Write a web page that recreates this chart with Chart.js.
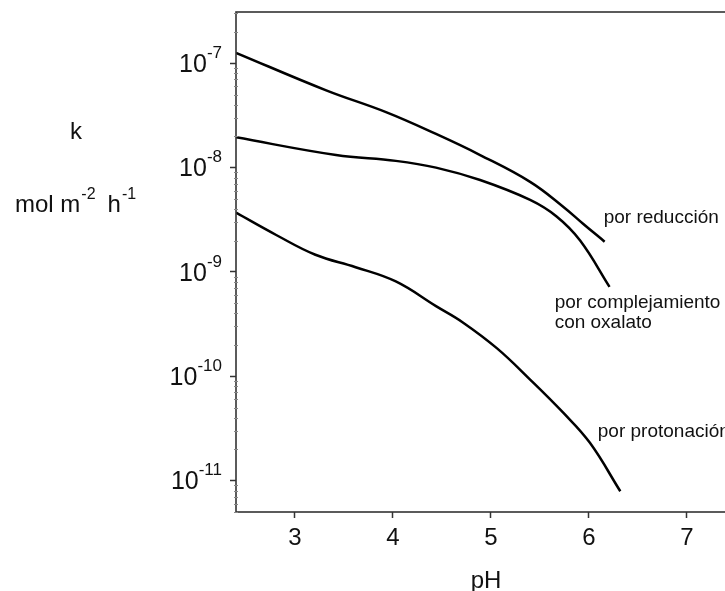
<!DOCTYPE html>
<html>
<head>
<meta charset="utf-8">
<script src="https://cdn.jsdelivr.net/npm/chart.js@4"></script>
<style>
  html, body { margin: 0; padding: 0; background: #fff; overflow: hidden; }
  #wrap { width: 750px; height: 591px; }
</style>
</head>
<body>
<div id="wrap"><canvas id="kchart"></canvas></div>
<script>
const FONT = '"Liberation Sans", Arial, Helvetica, sans-serif';

// rate curves (pH, k in mol m-2 h-1)
const phReduccion = [2.40, 3.32, 3.93, 4.44, 4.89, 5.40, 5.74, 5.94, 6.16];
const kReduccion = [1.26e-7, 5.5e-8, 3.4e-8, 2.1e-8, 1.32e-8, 7.3e-9, 4.2e-9, 2.9e-9, 1.95e-9];

const phOxalato = [2.40, 3.42, 4.03, 4.44, 4.89, 5.40, 5.67, 5.91, 6.21];
const kOxalato = [1.95e-8, 1.32e-8, 1.16e-8, 1.0e-8, 7.6e-9, 4.9e-9, 3.4e-9, 2.0e-9, 7.2e-10];

const phProtonacion = [2.40, 2.81, 3.21, 3.62, 4.03, 4.44, 4.71, 5.06, 5.40, 5.74, 6.01, 6.32];
const kProtonacion = [3.7e-9, 2.26e-9, 1.46e-9, 1.11e-9, 8.1e-10, 4.7e-10, 3.3e-10, 1.86e-10, 9.3e-11, 4.45e-11, 2.3e-11, 7.9e-12];

const xTickValues = [3, 4, 5, 6, 7];
const yTickExponents = [-7, -8, -9, -10, -11];

// curve labels, placed in data coordinates
const curveLabels = [
  { lines: ["por reducción"], ph: 6.15, k: 3.3e-9 },
  { lines: ["por complejamiento", "con oxalato"], ph: 5.65, k: 5.05e-10 },
  { lines: ["por protonación"], ph: 6.09, k: 2.95e-11 },
];

function toPoints(xs, ys) {
  return xs.map((x, i) => ({ x: x, y: ys[i] }));
}

const lineStyle = {
  borderColor: "#000",
  borderWidth: 2.5,
  pointRadius: 0,
  fill: false,
  tension: 0.4,
};

const extrasPlugin = {
  id: "extras",
  afterDraw(chart) {
    const ctx = chart.ctx;
    const area = chart.chartArea;
    const xs = chart.scales.x;
    const ys = chart.scales.y;
    ctx.save();

    // frame
    ctx.strokeStyle = "#333";
    ctx.lineWidth = 1.6;
    ctx.strokeRect(area.left, area.top, area.right - area.left, area.bottom - area.top);

    // minor log ticks
    ctx.strokeStyle = "#888";
    ctx.lineWidth = 1;
    for (let e = -12; e <= -7; e++) {
      for (let m = 2; m <= 9; m++) {
        const v = m * Math.pow(10, e);
        if (v < ys.min || v > ys.max) continue;
        const y = Math.round(ys.getPixelForValue(v)) + 0.5;
        ctx.beginPath();
        ctx.moveTo(area.left - 2, y);
        ctx.lineTo(area.left + 2, y);
        ctx.stroke();
      }
    }

    // y tick labels 10^n
    ctx.fillStyle = "#111";
    ctx.textBaseline = "middle";
    const rightEdge = area.left - 14;
    yTickExponents.forEach((e) => {
      const y = ys.getPixelForValue(Math.pow(10, e));
      const sup = "-" + Math.abs(e);
      ctx.font = "17px " + FONT;
      const supW = ctx.measureText(sup).width;
      ctx.textAlign = "left";
      ctx.fillText(sup, rightEdge - supW, y - 10);
      ctx.font = "25px " + FONT;
      ctx.textAlign = "right";
      ctx.fillText("10", rightEdge - supW, y + 2);
    });

    // y axis title
    ctx.textBaseline = "alphabetic";
    ctx.textAlign = "left";
    ctx.font = "24px " + FONT;
    ctx.fillText("k", 70, 139);
    let x = 15;
    ctx.fillText("mol m", x, 212);
    x += ctx.measureText("mol m").width + 1;
    ctx.font = "16px " + FONT;
    ctx.fillText("-2", x, 199);
    x += ctx.measureText("-2").width + 12;
    ctx.font = "24px " + FONT;
    ctx.fillText("h", x, 212);
    x += ctx.measureText("h").width + 1;
    ctx.font = "16px " + FONT;
    ctx.fillText("-1", x, 199);

    // x axis title
    ctx.font = "24px " + FONT;
    ctx.textAlign = "center";
    ctx.fillText("pH", (area.left + area.right) / 2, 588);

    // curve labels
    ctx.font = "19px " + FONT;
    ctx.textAlign = "left";
    ctx.textBaseline = "middle";
    curveLabels.forEach((lab) => {
      const px = xs.getPixelForValue(lab.ph);
      const py = ys.getPixelForValue(lab.k);
      lab.lines.forEach((t, i) => ctx.fillText(t, px, py + i * 20));
    });

    ctx.restore();
  },
};

new Chart(document.getElementById("kchart"), {
  type: "line",
  data: {
    datasets: [
      { label: "por reducción", data: toPoints(phReduccion, kReduccion), ...lineStyle },
      { label: "por complejamiento con oxalato", data: toPoints(phOxalato, kOxalato), ...lineStyle },
      { label: "por protonación", data: toPoints(phProtonacion, kProtonacion), ...lineStyle },
    ],
  },
  options: {
    responsive: true,
    maintainAspectRatio: false,
    animation: false,
    layout: {
      padding: { left: 0, top: 12, right: 14, bottom: 0 },
    },
    plugins: {
      legend: { display: false },
      tooltip: { enabled: false },
    },
    scales: {
      x: {
        type: "linear",
        min: 2.4,
        max: 7.5,
        afterBuildTicks: (scale) => {
          scale.ticks = xTickValues.map((v) => ({ value: v }));
        },
        afterFit: (scale) => {
          scale.height = 79;
        },
        border: { display: false },
        grid: {
          drawOnChartArea: false,
          drawTicks: true,
          tickLength: 6,
          tickColor: "#333",
          tickWidth: 1.5,
        },
        ticks: {
          color: "#111",
          font: { family: FONT, size: 24 },
          padding: 6,
          maxRotation: 0,
          autoSkip: false,
        },
      },
      y: {
        type: "logarithmic",
        min: 5e-12,
        max: 3.1e-7,
        afterBuildTicks: (scale) => {
          scale.ticks = yTickExponents.map((e) => ({ value: Math.pow(10, e), major: true }));
        },
        afterFit: (scale) => {
          scale.width = 236;
        },
        border: { display: false },
        grid: {
          drawOnChartArea: false,
          drawTicks: true,
          tickLength: 6,
          tickColor: "#333",
          tickWidth: 1.5,
        },
        ticks: {
          callback: () => "",
        },
      },
    },
  },
  plugins: [extrasPlugin],
});
</script>
</body>
</html>
